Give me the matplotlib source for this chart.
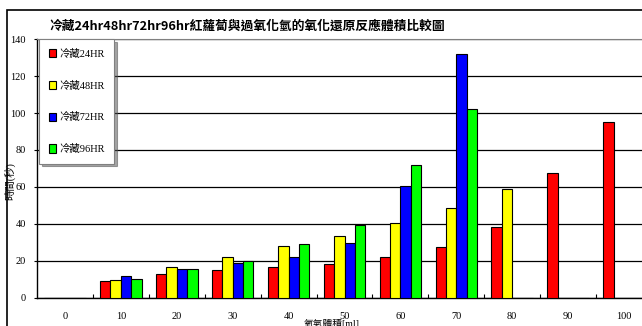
import matplotlib.pyplot as plt
import matplotlib.patches as patches
import numpy as np

# 資料
volumes = ['0', '10', '20', '30', '40', '50', '60', '70', '80', '90', '100']
series_names = ['冷藏24HR', '冷藏48HR', '冷藏72HR', '冷藏96HR']
hr24 = [0, 9.2, 12.6, 15.0, 16.6, 18.2, 21.8, 27.4, 38.2, 67.7, 95.0]
hr48 = [0, 9.7, 16.6, 22.2, 27.9, 33.5, 40.5, 48.5, 58.6, 0, 0]
hr72 = [0, 11.5, 15.7, 18.9, 22.2, 29.5, 60.5, 132.1, 0, 0, 0]
hr96 = [0, 10.3, 15.7, 20.0, 29.0, 39.3, 71.9, 102.0, 0, 0, 0]
colors = ['#ff0000', '#ffff00', '#0000ff', '#00ff00']

plt.rcParams['font.family'] = ['Liberation Serif', 'Noto Sans CJK TC']

fig = plt.figure(figsize=(6.42, 3.26), dpi=100)

# 外框
fig.patches.append(patches.Rectangle((7 / 642, -0.1), 1.1, 1 - 10 / 326 + 0.1,
                                     transform=fig.transFigure, fill=False,
                                     edgecolor='black', linewidth=1.2))

ax = fig.add_axes([37 / 642, 28.3 / 326, 615 / 642, 258.5 / 326])

x = np.arange(len(volumes))
w = 0.186
offsets = [-1.5 * w, -0.5 * w, 0.5 * w, 1.5 * w]
for vals, name, c, off in zip([hr24, hr48, hr72, hr96], series_names, colors, offsets):
    ax.bar(x + off, vals, width=w, color=c, edgecolor='black', linewidth=0.8,
           label=name, zorder=3)

ax.set_xlim(-0.5, len(volumes) - 0.5)
ax.set_ylim(0, 140)
ax.set_yticks(np.arange(0, 141, 20))
ax.grid(axis='y', color='black', linewidth=0.9, zorder=0)

ax.set_xticks(x)
ax.set_xticklabels(volumes)
ax.set_xticks(np.arange(0.5, len(volumes) - 0.5, 1), minor=True)
ax.tick_params(axis='x', which='major', length=0, pad=10, labelsize=7.5)
ax.tick_params(axis='x', which='minor', length=3, direction='in', width=0.8)
ax.tick_params(axis='y', length=2, pad=6, labelsize=7.5)

for side in ['top', 'right']:
    ax.spines[side].set_color('#808080')
ax.spines['left'].set_linewidth(1.0)
ax.spines['bottom'].set_linewidth(1.0)

ax.set_ylabel('時間(秒)', fontsize=7.5, labelpad=2)
ax.yaxis.set_label_coords(-0.036, 0.45)
ax.set_xlabel('氧氣體積[ml]', fontsize=7, labelpad=2)
ax.xaxis.set_label_coords(0.48, -0.083)

leg = ax.legend(loc='upper left', bbox_to_anchor=(0.004, 1.0), fontsize=7.5,
                frameon=True, fancybox=False, shadow=True, edgecolor='#808080',
                handlelength=0.7, handleheight=0.9, handletextpad=0.3,
                labelspacing=2.1, borderpad=0.9, borderaxespad=0)
leg.get_frame().set_linewidth(0.8)

fig.text(247 / 642, 1 - 30 / 326,
         '冷藏24hr48hr72hr96hr紅蘿蔔與過氧化氫的氧化還原反應體積比較圖',
         ha='center', va='baseline', fontsize=9.2, fontweight='bold',
         family=['Noto Sans CJK TC'])

fig.savefig('out.png', dpi=100)
